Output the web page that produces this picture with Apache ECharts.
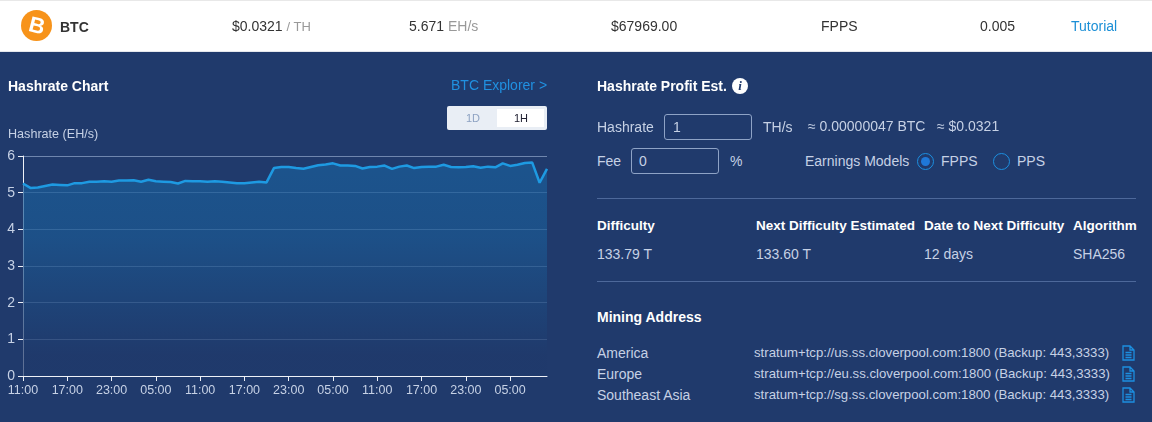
<!DOCTYPE html>
<html>
<head>
<meta charset="utf-8">
<title>BTC Hashrate</title>
<script src="https://cdn.jsdelivr.net/npm/echarts@6/dist/echarts.min.js"></script>
<style>
html, body { margin: 0; padding: 0; }
body { width: 1152px; height: 422px; overflow: hidden; position: relative; background: #203a6c; font-family: "Liberation Sans", Arial, sans-serif; font-size: 14px; color: #c6d1e5; }
#top { position: absolute; left: 0; top: 0; width: 1152px; height: 52px; background: #fff; border-top: 1px solid #e8e8e8; border-bottom: 1px solid #e4e7ec; box-sizing: border-box; }
#chart { position: absolute; left: 0; top: 0; width: 576px; height: 422px; }
.t { position: absolute; white-space: nowrap; line-height: 20px; margin-top: -10px; }
.b { font-weight: bold; color: #fff; font-size: 13.5px; }
.h { font-size: 14px; }
.d { color: #333; }
.g { color: #999; }
.addr { font-size: 13.2px; }
.box { position: absolute; border: 1px solid #8ea3c6; border-radius: 3px; box-sizing: border-box; }
.hr { position: absolute; left: 597px; width: 539px; height: 1px; background: #4d689a; }
.radio { position: absolute; width: 17px; height: 17px; border: 1px solid #1c8fe0; border-radius: 50%; box-sizing: border-box; }
.radio i { position: absolute; left: 3px; top: 3px; width: 9px; height: 9px; border-radius: 50%; background: #1f78d8; }
svg.copy { position: absolute; left: 1122px; width: 13px; height: 16px; }
</style>
</head>
<body>
<div id="top"></div>
<div id="chart"></div>

<div style="position:absolute;left:21px;top:10px;width:31px;height:31px;border-radius:50%;background:#f7931a;color:#fff;font:bold 22px/31px 'Liberation Sans';text-align:center;"><span style="display:inline-block;transform:rotate(14deg);">B</span></div>
<div class="t d" style="left:60px;top:27px;font-weight:bold;">BTC</div>
<div class="t d" style="left:232px;top:26px;">$0.0321 <span class="g" style="font-size:13px;">/ TH</span></div>
<div class="t d" style="left:409px;top:26px;">5.671 <span class="g">EH/s</span></div>
<div class="t d" style="left:611px;top:26px;">$67969.00</div>
<div class="t d" style="left:821px;top:26px;">FPPS</div>
<div class="t d" style="left:980px;top:26px;">0.005</div>
<div class="t" style="left:1071px;top:26px;color:#1b8fd6;">Tutorial</div>

<div class="t b h" style="left:8px;top:86px;">Hashrate Chart</div>
<div class="t" style="left:451px;top:85px;color:#2090e0;">BTC Explorer &gt;</div>
<div style="position:absolute;left:447px;top:106px;width:100px;height:24px;background:#e9eef5;border-radius:2px;"></div>
<div style="position:absolute;left:497px;top:109px;width:47px;height:18px;background:#fff;"></div>
<div class="t" style="left:466px;top:118px;font-size:11px;color:#8da2c2;">1D</div>
<div class="t" style="left:514px;top:118px;font-size:11px;color:#223;">1H</div>

<div class="t b h" style="left:597px;top:86px;">Hashrate Profit Est.</div>
<div style="position:absolute;left:732px;top:78px;width:16px;height:16px;border-radius:50%;background:#fff;color:#203a6c;font:italic bold 13px/16px 'Liberation Serif';text-align:center;">i</div>

<div class="t" style="left:597px;top:127px;">Hashrate</div>
<div class="box" style="left:664px;top:114px;width:88px;height:26px;"></div>
<div class="t" style="left:673px;top:127px;">1</div>
<div class="t" style="left:763px;top:127px;">TH/s</div>
<div class="t" style="left:808px;top:126px;">≈ 0.00000047 BTC</div>
<div class="t" style="left:937px;top:126px;">≈ $0.0321</div>
<div class="t" style="left:597px;top:161px;">Fee</div>
<div class="box" style="left:631px;top:148px;width:88px;height:26px;"></div>
<div class="t" style="left:639px;top:161px;">0</div>
<div class="t" style="left:730px;top:161px;">%</div>
<div class="t" style="left:805px;top:161px;">Earnings Models</div>
<div class="radio" style="left:917px;top:153px;"><i></i></div>
<div class="t" style="left:941px;top:161px;">FPPS</div>
<div class="radio" style="left:993px;top:153px;"></div>
<div class="t" style="left:1017px;top:161px;">PPS</div>
<div class="hr" style="top:198px;"></div>

<div class="t b" style="left:597px;top:226px;">Difficulty</div>
<div class="t b" style="left:756px;top:226px;">Next Difficulty Estimated</div>
<div class="t b" style="left:924px;top:226px;">Date to Next Difficulty</div>
<div class="t b" style="left:1073px;top:226px;">Algorithm</div>
<div class="t" style="left:597px;top:254px;">133.79 T</div>
<div class="t" style="left:756px;top:254px;">133.60 T</div>
<div class="t" style="left:924px;top:254px;">12 days</div>
<div class="t" style="left:1073px;top:254px;">SHA256</div>
<div class="hr" style="top:281px;"></div>

<div class="t b h" style="left:597px;top:317px;">Mining Address</div>
<div class="t" style="left:597px;top:353px;">America</div>
<div class="t" style="left:597px;top:374px;">Europe</div>
<div class="t" style="left:597px;top:395px;">Southeast Asia</div>
<div class="t addr" style="left:754px;top:353px;">stratum+tcp://us.ss.cloverpool.com:1800 (Backup: 443,3333)</div>
<div class="t addr" style="left:754px;top:374px;">stratum+tcp://eu.ss.cloverpool.com:1800 (Backup: 443,3333)</div>
<div class="t addr" style="left:754px;top:395px;">stratum+tcp://sg.ss.cloverpool.com:1800 (Backup: 443,3333)</div>
<svg class="copy" style="top:345px;" viewBox="0 0 13 16"><path d="M1 1h7l4 4v10H1zM8 1v4h4M3.500 7.500h6M3.500 10h6M3.500 12.500h6" fill="none" stroke="#1c8fe0" stroke-width="1.300"/></svg>
<svg class="copy" style="top:366px;" viewBox="0 0 13 16"><path d="M1 1h7l4 4v10H1zM8 1v4h4M3.500 7.500h6M3.500 10h6M3.500 12.500h6" fill="none" stroke="#1c8fe0" stroke-width="1.300"/></svg>
<svg class="copy" style="top:387px;" viewBox="0 0 13 16"><path d="M1 1h7l4 4v10H1zM8 1v4h4M3.500 7.500h6M3.500 10h6M3.500 12.500h6" fill="none" stroke="#1c8fe0" stroke-width="1.300"/></svg>

<script>
// hourly samples, first label 11:00
var hours = [
  '11:00','12:00','13:00','14:00','15:00','16:00','17:00','18:00','19:00','20:00','21:00','22:00',
  '23:00','00:00','01:00','02:00','03:00','04:00','05:00','06:00','07:00','08:00','09:00','10:00',
  '11:00','12:00','13:00','14:00','15:00','16:00','17:00','18:00','19:00','20:00','21:00','22:00',
  '23:00','00:00','01:00','02:00','03:00','04:00','05:00','06:00','07:00','08:00','09:00','10:00',
  '11:00','12:00','13:00','14:00','15:00','16:00','17:00','18:00','19:00','20:00','21:00','22:00',
  '23:00','00:00','01:00','02:00','03:00','04:00','05:00','06:00','07:00','08:00','09:00','10:00'
];
var hashrate = [
  5.25,5.13,5.14,5.18,5.22,5.21,5.20,5.26,5.26,5.30,5.30,5.31,
  5.30,5.33,5.33,5.34,5.30,5.35,5.31,5.30,5.29,5.25,5.32,5.31,
  5.31,5.30,5.31,5.30,5.28,5.26,5.26,5.28,5.30,5.28,5.67,5.70,
  5.70,5.67,5.65,5.70,5.75,5.77,5.80,5.74,5.74,5.73,5.66,5.70,
  5.71,5.74,5.65,5.71,5.74,5.67,5.70,5.71,5.71,5.76,5.70,5.69,
  5.70,5.72,5.68,5.71,5.69,5.80,5.73,5.76,5.81,5.82,5.27,5.65
];
var yTicks = [0, 1, 2, 3, 4, 5, 6];

// tick every 6 hours, the trailing partial interval stays unlabelled
function everySixHours(index) {
  return index % 6 === 0;
}

var myChart = echarts.init(document.getElementById('chart'), null, { renderer: 'canvas' });
myChart.setOption({
  animation: false,
  backgroundColor: 'transparent',
  title: {
    text: 'Hashrate (EH/s)',
    left: 8,
    top: 128,
    padding: 0,
    textStyle: { color: '#c6d1e5', fontSize: 12.6, fontWeight: 'normal', fontFamily: 'Liberation Sans' }
  },
  grid: { left: 23, right: 29, top: 156, bottom: 46, containLabel: false },
  xAxis: {
    type: 'category',
    data: hours,
    boundaryGap: false,
    axisLine: { lineStyle: { color: '#eef1f7', width: 1 } },
    axisTick: { alignWithLabel: true, interval: everySixHours, length: 5, lineStyle: { color: '#eef1f7' } },
    axisLabel: { interval: everySixHours, color: '#c6d1e5', fontSize: 12.5, margin: 8, fontFamily: 'Liberation Sans', hideOverlap: false },
    splitLine: { show: false }
  },
  yAxis: {
    type: 'value',
    min: yTicks[0],
    max: yTicks[yTicks.length - 1],
    interval: 1,
    axisLine: { show: true, lineStyle: { color: '#eef1f7', width: 1 } },
    axisTick: { show: true, length: 5, lineStyle: { color: '#eef1f7' } },
    axisLabel: { color: '#c6d1e5', fontSize: 14, margin: 8, fontFamily: 'Liberation Sans' },
    splitLine: { lineStyle: { color: 'rgba(190,210,240,0.5)', width: 1 } }
  },
  series: [{
    type: 'line',
    data: hashrate,
    symbol: 'none',
    smooth: false,
    z: 3,
    lineStyle: { color: '#1e9ae2', width: 2.5 },
    areaStyle: {
      color: new echarts.graphic.LinearGradient(0, 0, 0, 1, [
        { offset: 0, color: '#1b5f9b' },
        { offset: 0.35, color: '#1c5a94' },
        { offset: 0.9, color: '#203a6c' },
        { offset: 1, color: '#203a6c' }
      ])
    }
  }]
});
</script>
</body>
</html>
